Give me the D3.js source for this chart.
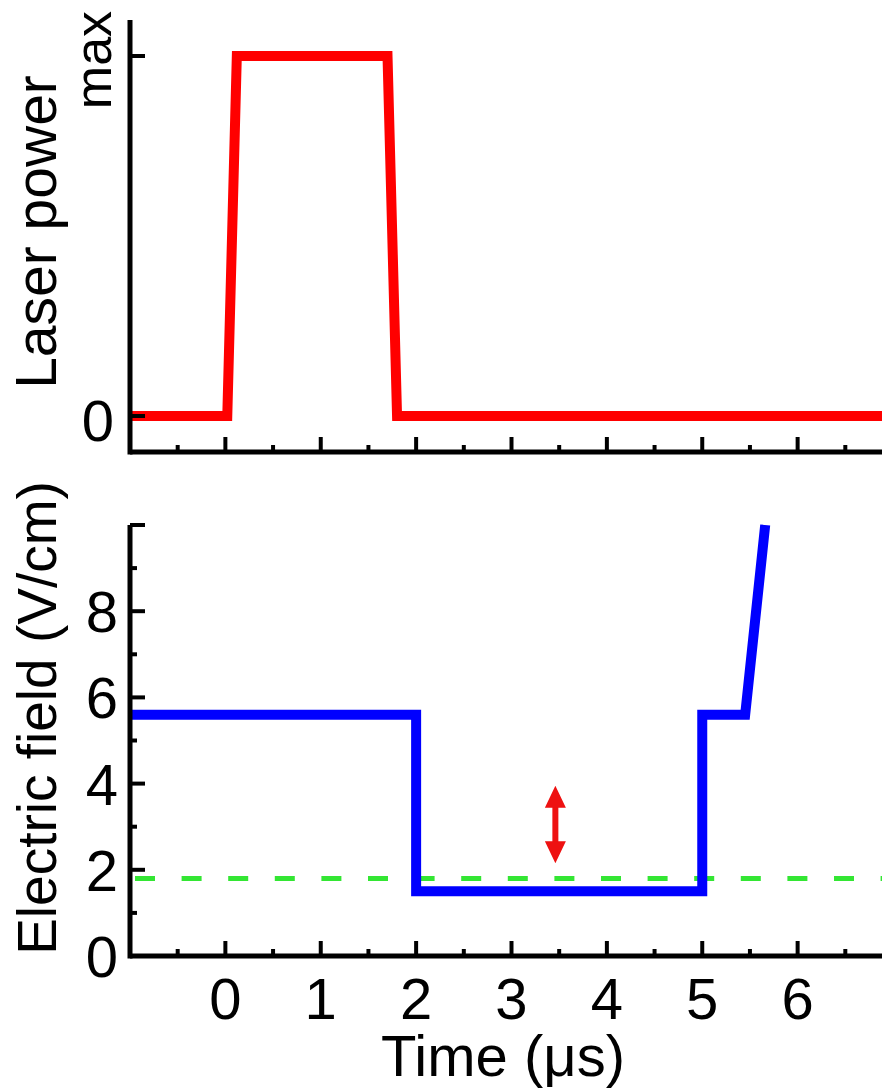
<!DOCTYPE html>
<html lang="en">
<head>
<meta charset="UTF-8">
<title>Laser power and electric field vs time</title>
<script src="https://d3js.org/d3.v7.min.js"></script>
<style>
  body { margin: 0; background: #fff; }
  text { font-family: "Liberation Sans", Arial, sans-serif; fill: #000; }
</style>
</head>
<body>
<svg width="882" height="1089"></svg>
<script>
// time axis (µs)
const majorTicks = [0, 1, 2, 3, 4, 5, 6];
const minorTicks = [-0.5, 0.5, 1.5, 2.5, 3.5, 4.5, 5.5, 6.5];

// laser pulse, normalised power (0 .. max)
const laserTime  = [-1, 0.02, 0.12, 1.7, 1.8, 7];
const laserPower = [0, 0, 1, 1, 0, 0];

// electric field sequence (V/cm)
const fieldTime  = [-1, 2, 2, 5, 5, 5.45, 5.66];
const fieldValue = [5.6, 5.6, 1.5, 1.5, 5.6, 5.6, 10];

const fieldMajor = [0, 2, 4, 6, 8];
const fieldMinor = [1, 3, 5, 7, 9];
const thresholdField = 1.8;      // green dashed line
const arrowTime = 3.46;
const arrowRange = [2.15, 3.95];

const svg = d3.select('svg');

const x = d3.scaleLinear().domain([-1, 7]).range([130, 893]);
const yTop = d3.scaleLinear().domain([-0.1, 1.1]).range([452, 20]);
const yBot = d3.scaleLinear().domain([0, 10]).range([956, 525]);

function xAxes(g, y0) {
    g.attr('transform', `translate(0,${y0})`);
    g.append('line')
        .attr('x1', x(-1)).attr('x2', 882)
        .attr('stroke', '#000').attr('stroke-width', 5);
    g.selectAll('.maj').data(majorTicks).join('line')
        .attr('class', 'maj')
        .attr('x1', d => x(d)).attr('x2', d => x(d))
        .attr('y1', 0).attr('y2', -15)
        .attr('stroke', '#000').attr('stroke-width', 4);
    g.selectAll('.min').data(minorTicks).join('line')
        .attr('class', 'min')
        .attr('x1', d => x(d)).attr('x2', d => x(d))
        .attr('y1', 0).attr('y2', -7)
        .attr('stroke', '#000').attr('stroke-width', 4);
}

function yAxisLine(g, scale, major, minor) {
    const [r0, r1] = scale.range();
    g.append('line')
        .attr('x1', x(-1)).attr('x2', x(-1))
        .attr('y1', r0 + 2.5).attr('y2', r1)
        .attr('stroke', '#000').attr('stroke-width', 5);
    g.selectAll('.maj').data(major).join('line')
        .attr('class', 'maj')
        .attr('x1', x(-1)).attr('x2', x(-1) + 15)
        .attr('y1', d => scale(d)).attr('y2', d => scale(d))
        .attr('stroke', '#000').attr('stroke-width', 4);
    g.selectAll('.min').data(minor).join('line')
        .attr('class', 'min')
        .attr('x1', x(-1)).attr('x2', x(-1) + 7)
        .attr('y1', d => scale(d)).attr('y2', d => scale(d))
        .attr('stroke', '#000').attr('stroke-width', 4);
}

// ---- top panel: laser power ----
const topPanel = svg.append('g');
const laserLine = d3.line()
    .x((d, i) => x(laserTime[i]))
    .y(d => yTop(d));
topPanel.append('path')
    .attr('d', laserLine(laserPower))
    .attr('fill', 'none')
    .attr('stroke', '#ff0000')
    .attr('stroke-width', 10)
    .attr('stroke-linejoin', 'miter');
xAxes(topPanel.append('g'), yTop(-0.1));
yAxisLine(topPanel.append('g'), yTop, [0, 1], []);

topPanel.append('text')
    .attr('x', 114).attr('y', yTop(0) + 25)
    .attr('text-anchor', 'end')
    .attr('font-size', 58)
    .text('0');
topPanel.append('text')
    .attr('transform', `translate(111,${yTop(1) + 4}) rotate(-90)`)
    .attr('text-anchor', 'middle')
    .attr('font-size', 52)
    .text('max');
topPanel.append('text')
    .attr('transform', 'translate(56,232) rotate(-90)')
    .attr('text-anchor', 'middle')
    .attr('font-size', 57)
    .text('Laser power');

// ---- bottom panel: electric field ----
const botPanel = svg.append('g');
botPanel.append('line')
    .attr('x1', x(-1) + 5).attr('x2', 882)
    .attr('y1', yBot(thresholdField)).attr('y2', yBot(thresholdField))
    .attr('stroke', '#33e633')
    .attr('stroke-width', 5)
    .attr('stroke-dasharray', '20 26.6');

const fieldLine = d3.line()
    .x((d, i) => x(fieldTime[i]))
    .y(d => yBot(d));
botPanel.append('path')
    .attr('d', fieldLine(fieldValue))
    .attr('fill', 'none')
    .attr('stroke', '#0000ff')
    .attr('stroke-width', 10)
    .attr('stroke-linejoin', 'miter');

// double arrow
const ax = x(arrowTime);
const aLo = yBot(arrowRange[0]), aHi = yBot(arrowRange[1]);
const head = 22, hw = 10.5;
botPanel.append('line')
    .attr('x1', ax).attr('x2', ax)
    .attr('y1', aHi + head - 2).attr('y2', aLo - head + 2)
    .attr('stroke', '#ee1111').attr('stroke-width', 6);
botPanel.append('path')
    .attr('d', `M${ax},${aHi}L${ax + hw},${aHi + head}L${ax - hw},${aHi + head}Z` +
               `M${ax},${aLo}L${ax + hw},${aLo - head}L${ax - hw},${aLo - head}Z`)
    .attr('fill', '#ee1111');

xAxes(botPanel.append('g'), yBot(0));
yAxisLine(botPanel.append('g'), yBot, fieldMajor.concat([10]), fieldMinor);

botPanel.selectAll('.ylab').data(fieldMajor).join('text')
    .attr('class', 'ylab')
    .attr('x', 118).attr('y', d => yBot(d) + 21)
    .attr('text-anchor', 'end')
    .attr('font-size', 58)
    .text(d => d);
botPanel.selectAll('.xlab').data(majorTicks).join('text')
    .attr('class', 'xlab')
    .attr('x', d => x(d)).attr('y', 1019)
    .attr('text-anchor', 'middle')
    .attr('font-size', 58)
    .text(d => d);

botPanel.append('text')
    .attr('transform', 'translate(56,718) rotate(-90)')
    .attr('text-anchor', 'middle')
    .attr('font-size', 55)
    .text('Electric field (V/cm)');
botPanel.append('text')
    .attr('x', 503).attr('y', 1076)
    .attr('text-anchor', 'middle')
    .attr('font-size', 58)
    .text('Time (μs)');
</script>
</body>
</html>
